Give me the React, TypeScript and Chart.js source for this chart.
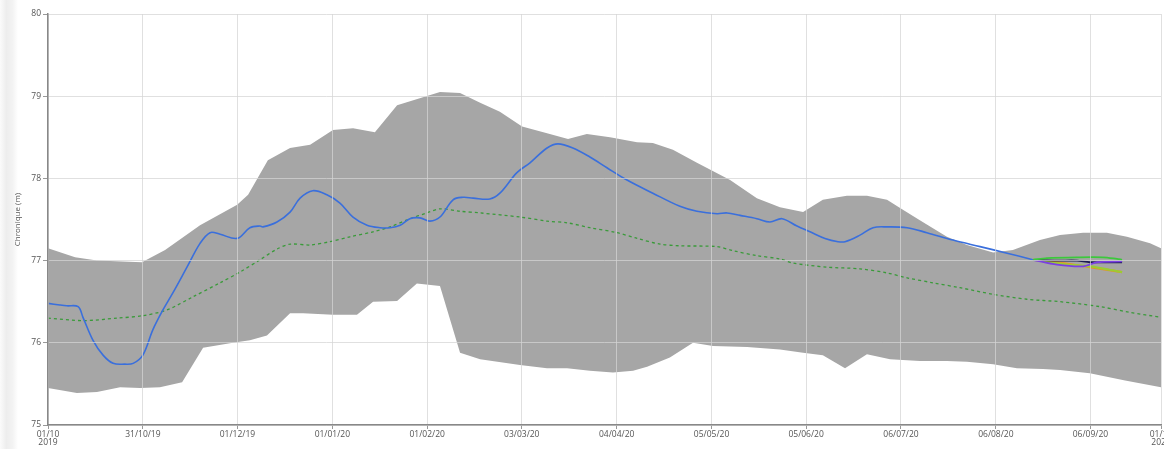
import React, { useEffect, useRef } from "react";
import { Chart, registerables } from "chart.js";

Chart.register(...registerables);

// X axis: days since 01/10/2019
const tickDays = [0, 31.2, 62.3, 93.5, 124.7, 155.8, 187, 218.2, 249.3, 280.5, 311.7, 342.8, 366];
const tickLabels: (string | string[])[] = [
  ["01/10", "2019"], "31/10/19", "01/12/19", "01/01/20", "01/02/20", "03/03/20", "04/04/20",
  "05/05/20", "05/06/20", "06/07/20", "06/08/20", "06/09/20", ["01/10", "2020"],
];

// Envelope (max / min)
const upperDays = [0, 8.9, 16.1, 30.9, 38.5, 50, 62.2, 65.8, 72.3, 79.6, 86.2, 93.7, 100.3, 107.5, 114.8, 128.9, 135.5, 142.1, 148.6, 155.9, 164.1, 171, 177.2, 184.8, 193.7, 198.9, 205.5, 213.4, 224.3, 233.1, 240.7, 248.3, 254.8, 262.7, 269.3, 275.9, 280.2, 286.7, 295.6, 302.2, 310.8, 317.3, 326.2, 332.8, 340.4, 348.2, 354.8, 362.4, 366];
const upperValues = [77.15, 77.04, 77.0, 76.98, 77.13, 77.43, 77.68, 77.8, 78.22, 78.37, 78.41, 78.59, 78.61, 78.56, 78.89, 79.05, 79.04, 78.92, 78.81, 78.63, 78.55, 78.48, 78.54, 78.5, 78.44, 78.43, 78.35, 78.19, 77.98, 77.76, 77.65, 77.59, 77.74, 77.79, 77.79, 77.74, 77.64, 77.49, 77.29, 77.19, 77.1, 77.13, 77.25, 77.31, 77.34, 77.34, 77.29, 77.21, 77.15];

const lowerDays = [0, 9.5, 16.1, 23.7, 30.3, 36.8, 44.1, 51, 60.8, 66.4, 72, 79.6, 83.9, 93.7, 101.6, 106.9, 114.8, 121.3, 128.9, 135.5, 142.1, 155.2, 164.1, 170.7, 178.2, 185.8, 192.4, 197, 204.5, 212.1, 218.7, 229.9, 240.7, 248.3, 254.8, 262.1, 269.3, 276.9, 286.7, 295.6, 302.2, 310.8, 318.6, 327.2, 332.8, 342.6, 354.2, 366];
const lowerValues = [75.45, 75.39, 75.4, 75.46, 75.45, 75.46, 75.52, 75.94, 76.0, 76.03, 76.09, 76.36, 76.36, 76.34, 76.34, 76.5, 76.51, 76.72, 76.69, 75.88, 75.8, 75.73, 75.69, 75.69, 75.66, 75.64, 75.66, 75.71, 75.82, 76.0, 75.96, 75.95, 75.92, 75.88, 75.85, 75.69, 75.86, 75.8, 75.78, 75.78, 75.77, 75.74, 75.69, 75.68, 75.67, 75.63, 75.54, 75.46];

// Observed series
const observedDays = [0, 3.9, 6.2, 9.9, 11.5, 14.8, 18.1, 21.4, 25.3, 28, 31.2, 34.5, 37.8, 41.1, 45.7, 50, 53.3, 56.6, 62.2, 66.4, 69.7, 70.7, 75.3, 79.6, 82.9, 87.1, 91.7, 96, 100.3, 104.9, 109.2, 112.5, 115.8, 119, 122.3, 125.6, 128.9, 133.2, 136.5, 139.8, 145.3, 148.6, 154.2, 158.5, 164.1, 167.7, 172.6, 178.2, 183.8, 190.4, 198.9, 207.8, 213.4, 220, 223.3, 227.6, 233.1, 237.4, 241.4, 246.3, 250.6, 255.5, 259.8, 262.1, 267, 271.3, 275.9, 282.5, 289, 297.6, 306.5, 315.4, 322.9, 323.9];
const observedValues = [76.48, 76.46, 76.45, 76.44, 76.31, 76.03, 75.85, 75.75, 75.74, 75.75, 75.85, 76.16, 76.4, 76.61, 76.92, 77.21, 77.34, 77.32, 77.27, 77.4, 77.42, 77.41, 77.47, 77.59, 77.76, 77.85, 77.8, 77.7, 77.53, 77.43, 77.4, 77.4, 77.43, 77.51, 77.52, 77.48, 77.53, 77.74, 77.77, 77.76, 77.75, 77.82, 78.07, 78.19, 78.37, 78.42, 78.37, 78.26, 78.13, 77.98, 77.82, 77.66, 77.6, 77.57, 77.58, 77.55, 77.51, 77.47, 77.51, 77.42, 77.35, 77.27, 77.23, 77.23, 77.31, 77.4, 77.41, 77.4, 77.34, 77.25, 77.17, 77.09, 77.02, 77.01];

// Median (dashed)
const medianDays = [0, 11.5, 22.7, 31.2, 39.1, 47.7, 56.6, 63.1, 69.7, 75.3, 79.6, 86.2, 92.7, 99.3, 106.9, 112.5, 119, 124.6, 128.9, 135.5, 142.1, 155.2, 164.1, 170.7, 178.2, 187.1, 193.7, 201.3, 207.8, 220, 225.3, 233.1, 240.7, 245, 256.2, 267, 275.9, 282.5, 291, 299.9, 310.8, 321.9, 332.8, 345.9, 355.8, 366];
const medianValues = [76.3, 76.27, 76.3, 76.33, 76.4, 76.56, 76.73, 76.86, 77.01, 77.14, 77.2, 77.19, 77.23, 77.29, 77.35, 77.41, 77.51, 77.58, 77.63, 77.6, 77.58, 77.53, 77.48, 77.46, 77.4, 77.34, 77.27, 77.2, 77.18, 77.17, 77.12, 77.06, 77.02, 76.97, 76.92, 76.9, 76.85, 76.79, 76.73, 76.67, 76.59, 76.53, 76.5, 76.44, 76.37, 76.31];

// Forecast scenarios
const fcGreenDays = [323.9, 328.5, 338.4, 346.9, 351.5, 353.2];
const fcGreenValues = [77.01, 77.03, 77.04, 77.04, 77.02, 77.01];
const fcNavyDays = [323.9, 331.8, 338.4, 342.6, 353.2];
const fcNavyValues = [77.01, 77.0, 77.0, 76.98, 76.98];
const fcPurpleDays = [323.9, 331.8, 340.4, 345, 353.2];
const fcPurpleValues = [77.01, 76.95, 76.93, 76.98, 76.99];
const fcOrangeDays = [323.9, 331.8, 342.6, 353.2];
const fcOrangeValues = [77.01, 76.98, 76.92, 76.86];
const fcOliveDays = [323.9, 335.1, 342.6, 353.2];
const fcOliveValues = [77.01, 76.95, 76.93, 76.86];

const pts = (xs: number[], ys: number[]) => xs.map((x, i) => ({ x, y: ys[i] }));

export default function App() {
  const ref = useRef<HTMLCanvasElement | null>(null);

  useEffect(() => {
    if (!ref.current) return;
    const line = (data: any, color: string, order: number, extra: any = {}) => ({
      data,
      borderColor: color,
      backgroundColor: color,
      borderWidth: 1.8,
      pointRadius: 0,
      fill: false,
      order,
      ...extra,
    });
    const chart = new Chart(ref.current, {
      type: "line",
      data: {
        datasets: [
          line(pts(fcGreenDays, fcGreenValues), "#3cc83c", 0, { tension: 0.3 }),
          line(pts(fcPurpleDays, fcPurpleValues), "#7b3fe4", 0, { tension: 0.3 }),
          line(pts(fcNavyDays, fcNavyValues), "#1c1c50", 0, { tension: 0.3 }),
          line(pts(fcOliveDays, fcOliveValues), "#9acd32", 0, { tension: 0.3, borderWidth: 2.2 }),
          line(pts(fcOrangeDays, fcOrangeValues), "#e8902a", 0, { tension: 0.3, borderWidth: 2.2 }),
          line(pts(observedDays, observedValues), "#3a6fdc", 1, { tension: 0.35, borderWidth: 1.6 }),
          line(pts(medianDays, medianValues), "#3a9a3a", 2, { tension: 0.3, borderWidth: 1.3, borderDash: [3, 3] }),
          {
            data: pts(upperDays, upperValues),
            borderWidth: 0,
            borderColor: "rgba(0,0,0,0)",
            backgroundColor: "#a6a6a6",
            pointRadius: 0,
            tension: 0,
            fill: "+1",
            order: 5,
          },
          {
            data: pts(lowerDays, lowerValues),
            borderWidth: 0,
            borderColor: "rgba(0,0,0,0)",
            backgroundColor: "#a6a6a6",
            pointRadius: 0,
            tension: 0,
            fill: false,
            order: 6,
          },
        ] as any,
      },
      options: {
        animation: false,
        responsive: false,
        maintainAspectRatio: false,
        layout: { padding: { left: 0, top: 14, right: 39, bottom: 0 } },
        plugins: { legend: { display: false }, tooltip: { enabled: false } },
        scales: {
          x: {
            type: "linear",
            min: 0,
            max: 366,
            afterBuildTicks: (scale: any) => {
              scale.ticks = tickDays.map((v) => ({ value: v }));
            },
            afterFit: (scale: any) => {
              scale.height = 24;
            },
            ticks: {
              autoSkip: false,
              maxRotation: 0,
              minRotation: 0,
              padding: 1,
              color: "#555",
              font: { family: '"Open Sans", sans-serif', size: 8.5, lineHeight: 1.0 },
              callback: (_v: any, i: number) => tickLabels[i],
            },
            grid: {
              color: "rgba(212,212,212,0.73)",
              tickColor: "#999",
              tickLength: 4,
              z: 1,
            },
            border: { color: "#888", width: 1.5, z: 2 },
          },
          y: {
            min: 75,
            max: 80,
            afterFit: (scale: any) => {
              scale.width = 48;
            },
            ticks: {
              stepSize: 1,
              padding: 2,
              color: "#555",
              font: { family: '"Open Sans", sans-serif', size: 8.5 },
            },
            grid: {
              color: "rgba(212,212,212,0.73)",
              tickColor: "#999",
              tickLength: 5,
              z: 1,
            },
            border: { color: "#888", width: 1.5, z: 2 },
            title: {
              display: true,
              text: "Chronique (m)",
              color: "#555",
              padding: { top: 13, bottom: 0 },
              font: { family: '"Open Sans", sans-serif', size: 8 },
            },
          },
        },
      } as any,
    });
    return () => chart.destroy();
  }, []);

  return (
    <div
      style={{
        position: "fixed",
        left: 0,
        top: 0,
        width: 1164,
        height: 449,
        overflow: "hidden",
        background: "#fff",
      }}
    >
      <div
        style={{
          position: "absolute",
          left: 0,
          top: 0,
          width: 18,
          height: 449,
          background: "linear-gradient(to right, #fbfbfb 0%, #ededed 35%, #f3f3f3 70%, #ffffff 100%)",
        }}
      />
      <canvas
        ref={ref}
        width={1200}
        height={449}
        style={{ position: "absolute", left: 0, top: 0, width: 1200, height: 449, display: "block" }}
      />
    </div>
  );
}
